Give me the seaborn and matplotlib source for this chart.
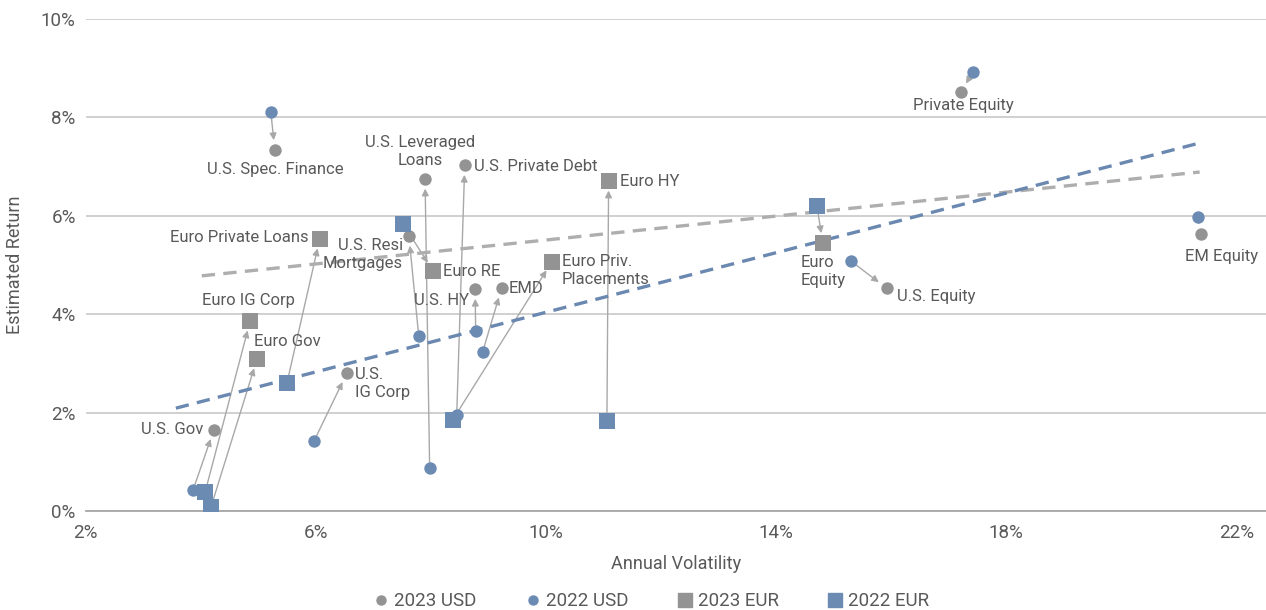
import matplotlib
matplotlib.use("Agg")
import matplotlib.pyplot as plt
from matplotlib.lines import Line2D
import pandas as pd
import seaborn as sns

# USD asset classes: 2022 -> 2023 (volatility %, return %)
assets_usd = ["U.S. Gov", "U.S. IG Corp", "U.S. Spec. Finance", "Private Equity", "EM Equity",
              "U.S. Equity", "U.S. Resi Mortgages", "U.S. Leveraged Loans", "U.S. HY", "EMD",
              "U.S. Private Debt"]
vol_2023_usd = [4.23, 6.54, 5.29, 17.21, 21.38, 15.92, 7.62, 7.90, 8.77, 9.23, 8.59]
ret_2023_usd = [1.65, 2.80, 7.34, 8.52, 5.63, 4.53, 5.59, 6.75, 4.51, 4.53, 7.03]
vol_2022_usd = [3.87, 5.97, 5.22, 17.42, 21.33, 15.30, 7.79, 7.98, 8.78, 8.90, 8.45]
ret_2022_usd = [0.43, 1.42, 8.11, 8.92, 5.98, 5.08, 3.56, 0.87, 3.66, 3.23, 1.95]

# EUR asset classes
assets_eur = ["Euro Gov", "Euro IG Corp", "Euro Private Loans", "Euro RE", "Euro Priv. Placements",
              "Euro HY", "Euro Equity"]
vol_2023_eur = [4.98, 4.86, 6.07, 8.04, 10.10, 11.09, 14.81]
ret_2023_eur = [3.09, 3.86, 5.53, 4.88, 5.06, 6.71, 5.45]
vol_2022_eur = [4.18, 4.08, 5.50, 7.52, 8.38, 11.06, 14.71]
ret_2022_eur = [0.08, 0.39, 2.60, 5.83, 1.85, 1.83, 6.20]

# trend lines (start / end)
trend_x_2023 = [4.02, 21.36]
trend_y_2023 = [4.78, 6.89]
trend_x_2022 = [3.57, 21.36]
trend_y_2022 = [2.09, 7.48]

x_ticks = [2, 6, 10, 14, 18, 22]
y_ticks = [0, 2, 4, 6, 8, 10]

# label placement: (dx px, dy px, ha, text)
label_pos = {
    "U.S. Gov": (-11, 0, "right", "U.S. Gov"),
    "U.S. IG Corp": (8, -10, "left", "U.S.\nIG Corp"),
    "U.S. Spec. Finance": (0, -20, "center", "U.S. Spec. Finance"),
    "Private Equity": (3, -14, "center", "Private Equity"),
    "EM Equity": (21, -22, "center", "EM Equity"),
    "U.S. Equity": (10, -8, "left", "U.S. Equity"),
    "U.S. Resi Mortgages": (-6, -19, "right", "U.S. Resi\nMortgages"),
    "U.S. Leveraged Loans": (-5, 27, "center", "U.S. Leveraged\nLoans"),
    "U.S. HY": (-6, -11, "right", "U.S. HY"),
    "EMD": (7, 0, "left", "EMD"),
    "U.S. Private Debt": (9, -1, "left", "U.S. Private Debt"),
    "Euro Gov": (-3, 17, "left", "Euro Gov"),
    "Euro IG Corp": (-2, 21, "center", "Euro IG Corp"),
    "Euro Private Loans": (-11, 1, "right", "Euro Private Loans"),
    "Euro RE": (10, -1, "left", "Euro RE"),
    "Euro Priv. Placements": (10, -8, "left", "Euro Priv.\nPlacements"),
    "Euro HY": (11, -1, "left", "Euro HY"),
    "Euro Equity": (-22, -29, "left", "Euro\nEquity"),
}

grey = "#939393"
blue = "#6C8BB3"
text_c = "#595959"

sns.set_style("white")
plt.rcParams["font.family"] = ["Roboto", "DejaVu Sans"]
plt.rcParams["font.size"] = 12

df_usd = pd.DataFrame({"asset": assets_usd, "v23": vol_2023_usd, "r23": ret_2023_usd,
                       "v22": vol_2022_usd, "r22": ret_2022_usd})
df_eur = pd.DataFrame({"asset": assets_eur, "v23": vol_2023_eur, "r23": ret_2023_eur,
                       "v22": vol_2022_eur, "r22": ret_2022_eur})

fig = plt.figure(figsize=(12.66, 6.10), dpi=100)
ax = fig.add_axes([85.5 / 1266, 99 / 610, 1 - 85.5 / 1266, 492 / 610])

# arrows from 2022 to 2023
for df in (df_usd, df_eur):
    for _, r in df.iterrows():
        ax.annotate("", xy=(r.v23, r.r23), xytext=(r.v22, r.r22),
                    arrowprops=dict(arrowstyle="-|>", color="#A8A8A8", lw=1.0,
                                    shrinkA=4, shrinkB=7, mutation_scale=10),
                    zorder=2)

# trend lines
ax.plot(trend_x_2023, trend_y_2023, ls=(0, (4, 2.5)), color="#AEAEAE", lw=2.4, zorder=3)
ax.plot(trend_x_2022, trend_y_2022, ls=(0, (4, 2.5)), color="#6A88B0", lw=2.4, zorder=3)

sns.scatterplot(data=df_usd, x="v23", y="r23", color=grey, marker="o", s=80, linewidth=0, ax=ax, zorder=4)
sns.scatterplot(data=df_usd, x="v22", y="r22", color=blue, marker="o", s=80, linewidth=0, ax=ax, zorder=4)
sns.scatterplot(data=df_eur, x="v23", y="r23", color=grey, marker="s", s=120, linewidth=0, ax=ax, zorder=4)
sns.scatterplot(data=df_eur, x="v22", y="r22", color=blue, marker="s", s=120, linewidth=0, ax=ax, zorder=4)

for df in (df_usd, df_eur):
    for _, r in df.iterrows():
        dx, dy, ha, txt = label_pos[r.asset]
        ax.annotate(txt, xy=(r.v23, r.r23), xytext=(dx, dy), textcoords="offset pixels",
                    ha=ha, va="center", color=text_c, fontsize=12, linespacing=1.25, zorder=5)

ax.set_xlim(2, 2 + (1266 - 85.5) / 57.55)
ax.set_ylim(0, 10)
ax.set_xticks(x_ticks)
ax.set_xticklabels([f"{t}%" for t in x_ticks])
ax.set_yticks(y_ticks)
ax.set_yticklabels([f"{t}%" for t in y_ticks])
ax.tick_params(axis="both", length=0, labelsize=13.5, labelcolor=text_c)
ax.tick_params(axis="y", pad=7)
ax.tick_params(axis="x", pad=9)
ax.yaxis.grid(True, color="#C4C4C4", lw=1.1)
ax.xaxis.grid(False)
for side in ("top", "right", "left"):
    ax.spines[side].set_visible(False)
ax.spines["bottom"].set_color("#A6A6A6")
ax.spines["bottom"].set_linewidth(1.3)
ax.set_axisbelow(True)

ax.set_xlabel("Annual Volatility", fontsize=13, color=text_c, labelpad=10)
ax.set_ylabel("Estimated Return", fontsize=13, color=text_c)
ax.yaxis.set_label_coords(-0.052, 0.5)

handles = [
    Line2D([], [], ls="", marker="o", color=grey, markersize=6.5, label="2023 USD"),
    Line2D([], [], ls="", marker="o", color=blue, markersize=6.5, label="2022 USD"),
    Line2D([], [], ls="", marker="s", color=grey, markersize=10, label="2023 EUR"),
    Line2D([], [], ls="", marker="s", color=blue, markersize=10, label="2022 EUR"),
]
fig.legend(handles=handles, loc="lower center", bbox_to_anchor=(0.514, -0.028), ncol=4,
           frameon=False, fontsize=13.5, labelcolor=text_c, handletextpad=0.2,
           columnspacing=2.5, handlelength=1.0)

fig.savefig("out.png", dpi=100)
